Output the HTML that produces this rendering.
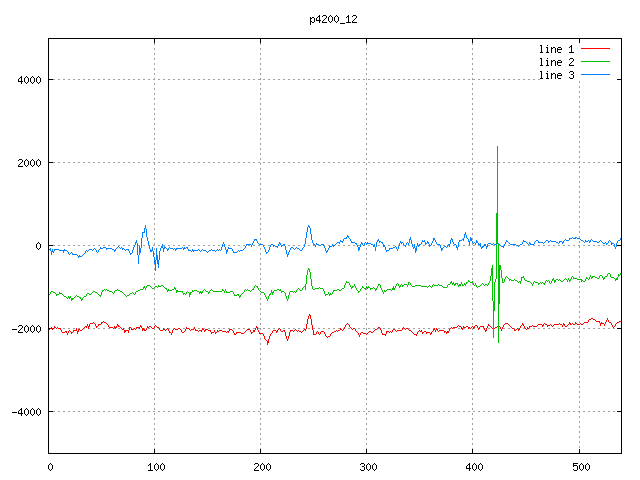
<!DOCTYPE html>
<html><head><meta charset="utf-8"><title>p4200_12</title>
<style>html,body{margin:0;padding:0;background:#fff;width:640px;height:480px;overflow:hidden;font-family:"Liberation Sans",sans-serif}</style>
</head><body>
<svg width="640" height="480" viewBox="0 0 640 480" style="display:block">
<rect width="640" height="480" fill="#fff"/>
<path fill="#a0a0a0" shape-rendering="crispEdges" d="M48 79h2v1h-2zM53 79h2v1h-2zM58 79h2v1h-2zM63 79h2v1h-2zM68 79h2v1h-2zM73 79h2v1h-2zM78 79h2v1h-2zM83 79h2v1h-2zM88 79h2v1h-2zM93 79h2v1h-2zM98 79h2v1h-2zM103 79h2v1h-2zM108 79h2v1h-2zM113 79h2v1h-2zM118 79h2v1h-2zM123 79h2v1h-2zM128 79h2v1h-2zM133 79h2v1h-2zM138 79h2v1h-2zM143 79h2v1h-2zM148 79h2v1h-2zM153 79h2v1h-2zM158 79h2v1h-2zM163 79h2v1h-2zM168 79h2v1h-2zM173 79h2v1h-2zM178 79h2v1h-2zM183 79h2v1h-2zM188 79h2v1h-2zM193 79h2v1h-2zM198 79h2v1h-2zM203 79h2v1h-2zM208 79h2v1h-2zM213 79h2v1h-2zM218 79h2v1h-2zM223 79h2v1h-2zM228 79h2v1h-2zM233 79h2v1h-2zM238 79h2v1h-2zM243 79h2v1h-2zM248 79h2v1h-2zM253 79h2v1h-2zM258 79h2v1h-2zM263 79h2v1h-2zM268 79h2v1h-2zM273 79h2v1h-2zM278 79h2v1h-2zM283 79h2v1h-2zM288 79h2v1h-2zM293 79h2v1h-2zM298 79h2v1h-2zM303 79h2v1h-2zM308 79h2v1h-2zM313 79h2v1h-2zM318 79h2v1h-2zM323 79h2v1h-2zM328 79h2v1h-2zM333 79h2v1h-2zM338 79h2v1h-2zM343 79h2v1h-2zM348 79h2v1h-2zM353 79h2v1h-2zM358 79h2v1h-2zM363 79h2v1h-2zM368 79h2v1h-2zM373 79h2v1h-2zM378 79h2v1h-2zM383 79h2v1h-2zM388 79h2v1h-2zM393 79h2v1h-2zM398 79h2v1h-2zM403 79h2v1h-2zM408 79h2v1h-2zM413 79h2v1h-2zM418 79h2v1h-2zM423 79h2v1h-2zM428 79h2v1h-2zM433 79h2v1h-2zM438 79h2v1h-2zM443 79h2v1h-2zM448 79h2v1h-2zM453 79h2v1h-2zM458 79h2v1h-2zM463 79h2v1h-2zM468 79h2v1h-2zM473 79h2v1h-2zM478 79h2v1h-2zM483 79h2v1h-2zM488 79h2v1h-2zM493 79h2v1h-2zM498 79h2v1h-2zM503 79h2v1h-2zM508 79h2v1h-2zM513 79h2v1h-2zM518 79h2v1h-2zM523 79h2v1h-2zM528 79h2v1h-2zM533 79h2v1h-2zM538 79h2v1h-2zM48 162h2v1h-2zM53 162h2v1h-2zM58 162h2v1h-2zM63 162h2v1h-2zM68 162h2v1h-2zM73 162h2v1h-2zM78 162h2v1h-2zM83 162h2v1h-2zM88 162h2v1h-2zM93 162h2v1h-2zM98 162h2v1h-2zM103 162h2v1h-2zM108 162h2v1h-2zM113 162h2v1h-2zM118 162h2v1h-2zM123 162h2v1h-2zM128 162h2v1h-2zM133 162h2v1h-2zM138 162h2v1h-2zM143 162h2v1h-2zM148 162h2v1h-2zM153 162h2v1h-2zM158 162h2v1h-2zM163 162h2v1h-2zM168 162h2v1h-2zM173 162h2v1h-2zM178 162h2v1h-2zM183 162h2v1h-2zM188 162h2v1h-2zM193 162h2v1h-2zM198 162h2v1h-2zM203 162h2v1h-2zM208 162h2v1h-2zM213 162h2v1h-2zM218 162h2v1h-2zM223 162h2v1h-2zM228 162h2v1h-2zM233 162h2v1h-2zM238 162h2v1h-2zM243 162h2v1h-2zM248 162h2v1h-2zM253 162h2v1h-2zM258 162h2v1h-2zM263 162h2v1h-2zM268 162h2v1h-2zM273 162h2v1h-2zM278 162h2v1h-2zM283 162h2v1h-2zM288 162h2v1h-2zM293 162h2v1h-2zM298 162h2v1h-2zM303 162h2v1h-2zM308 162h2v1h-2zM313 162h2v1h-2zM318 162h2v1h-2zM323 162h2v1h-2zM328 162h2v1h-2zM333 162h2v1h-2zM338 162h2v1h-2zM343 162h2v1h-2zM348 162h2v1h-2zM353 162h2v1h-2zM358 162h2v1h-2zM363 162h2v1h-2zM368 162h2v1h-2zM373 162h2v1h-2zM378 162h2v1h-2zM383 162h2v1h-2zM388 162h2v1h-2zM393 162h2v1h-2zM398 162h2v1h-2zM403 162h2v1h-2zM408 162h2v1h-2zM413 162h2v1h-2zM418 162h2v1h-2zM423 162h2v1h-2zM428 162h2v1h-2zM433 162h2v1h-2zM438 162h2v1h-2zM443 162h2v1h-2zM448 162h2v1h-2zM453 162h2v1h-2zM458 162h2v1h-2zM463 162h2v1h-2zM468 162h2v1h-2zM473 162h2v1h-2zM478 162h2v1h-2zM483 162h2v1h-2zM488 162h2v1h-2zM493 162h2v1h-2zM498 162h2v1h-2zM503 162h2v1h-2zM508 162h2v1h-2zM513 162h2v1h-2zM518 162h2v1h-2zM523 162h2v1h-2zM528 162h2v1h-2zM533 162h2v1h-2zM538 162h2v1h-2zM543 162h2v1h-2zM548 162h2v1h-2zM553 162h2v1h-2zM558 162h2v1h-2zM563 162h2v1h-2zM568 162h2v1h-2zM573 162h2v1h-2zM578 162h2v1h-2zM583 162h2v1h-2zM588 162h2v1h-2zM593 162h2v1h-2zM598 162h2v1h-2zM603 162h2v1h-2zM608 162h2v1h-2zM613 162h2v1h-2zM618 162h2v1h-2zM48 245h2v1h-2zM53 245h2v1h-2zM58 245h2v1h-2zM63 245h2v1h-2zM68 245h2v1h-2zM73 245h2v1h-2zM78 245h2v1h-2zM83 245h2v1h-2zM88 245h2v1h-2zM93 245h2v1h-2zM98 245h2v1h-2zM103 245h2v1h-2zM108 245h2v1h-2zM113 245h2v1h-2zM118 245h2v1h-2zM123 245h2v1h-2zM128 245h2v1h-2zM133 245h2v1h-2zM138 245h2v1h-2zM143 245h2v1h-2zM148 245h2v1h-2zM153 245h2v1h-2zM158 245h2v1h-2zM163 245h2v1h-2zM168 245h2v1h-2zM173 245h2v1h-2zM178 245h2v1h-2zM183 245h2v1h-2zM188 245h2v1h-2zM193 245h2v1h-2zM198 245h2v1h-2zM203 245h2v1h-2zM208 245h2v1h-2zM213 245h2v1h-2zM218 245h2v1h-2zM223 245h2v1h-2zM228 245h2v1h-2zM233 245h2v1h-2zM238 245h2v1h-2zM243 245h2v1h-2zM248 245h2v1h-2zM253 245h2v1h-2zM258 245h2v1h-2zM263 245h2v1h-2zM268 245h2v1h-2zM273 245h2v1h-2zM278 245h2v1h-2zM283 245h2v1h-2zM288 245h2v1h-2zM293 245h2v1h-2zM298 245h2v1h-2zM303 245h2v1h-2zM308 245h2v1h-2zM313 245h2v1h-2zM318 245h2v1h-2zM323 245h2v1h-2zM328 245h2v1h-2zM333 245h2v1h-2zM338 245h2v1h-2zM343 245h2v1h-2zM348 245h2v1h-2zM353 245h2v1h-2zM358 245h2v1h-2zM363 245h2v1h-2zM368 245h2v1h-2zM373 245h2v1h-2zM378 245h2v1h-2zM383 245h2v1h-2zM388 245h2v1h-2zM393 245h2v1h-2zM398 245h2v1h-2zM403 245h2v1h-2zM408 245h2v1h-2zM413 245h2v1h-2zM418 245h2v1h-2zM423 245h2v1h-2zM428 245h2v1h-2zM433 245h2v1h-2zM438 245h2v1h-2zM443 245h2v1h-2zM448 245h2v1h-2zM453 245h2v1h-2zM458 245h2v1h-2zM463 245h2v1h-2zM468 245h2v1h-2zM473 245h2v1h-2zM478 245h2v1h-2zM483 245h2v1h-2zM488 245h2v1h-2zM493 245h2v1h-2zM498 245h2v1h-2zM503 245h2v1h-2zM508 245h2v1h-2zM513 245h2v1h-2zM518 245h2v1h-2zM523 245h2v1h-2zM528 245h2v1h-2zM533 245h2v1h-2zM538 245h2v1h-2zM543 245h2v1h-2zM548 245h2v1h-2zM553 245h2v1h-2zM558 245h2v1h-2zM563 245h2v1h-2zM568 245h2v1h-2zM573 245h2v1h-2zM578 245h2v1h-2zM583 245h2v1h-2zM588 245h2v1h-2zM593 245h2v1h-2zM598 245h2v1h-2zM603 245h2v1h-2zM608 245h2v1h-2zM613 245h2v1h-2zM618 245h2v1h-2zM48 328h2v1h-2zM53 328h2v1h-2zM58 328h2v1h-2zM63 328h2v1h-2zM68 328h2v1h-2zM73 328h2v1h-2zM78 328h2v1h-2zM83 328h2v1h-2zM88 328h2v1h-2zM93 328h2v1h-2zM98 328h2v1h-2zM103 328h2v1h-2zM108 328h2v1h-2zM113 328h2v1h-2zM118 328h2v1h-2zM123 328h2v1h-2zM128 328h2v1h-2zM133 328h2v1h-2zM138 328h2v1h-2zM143 328h2v1h-2zM148 328h2v1h-2zM153 328h2v1h-2zM158 328h2v1h-2zM163 328h2v1h-2zM168 328h2v1h-2zM173 328h2v1h-2zM178 328h2v1h-2zM183 328h2v1h-2zM188 328h2v1h-2zM193 328h2v1h-2zM198 328h2v1h-2zM203 328h2v1h-2zM208 328h2v1h-2zM213 328h2v1h-2zM218 328h2v1h-2zM223 328h2v1h-2zM228 328h2v1h-2zM233 328h2v1h-2zM238 328h2v1h-2zM243 328h2v1h-2zM248 328h2v1h-2zM253 328h2v1h-2zM258 328h2v1h-2zM263 328h2v1h-2zM268 328h2v1h-2zM273 328h2v1h-2zM278 328h2v1h-2zM283 328h2v1h-2zM288 328h2v1h-2zM293 328h2v1h-2zM298 328h2v1h-2zM303 328h2v1h-2zM308 328h2v1h-2zM313 328h2v1h-2zM318 328h2v1h-2zM323 328h2v1h-2zM328 328h2v1h-2zM333 328h2v1h-2zM338 328h2v1h-2zM343 328h2v1h-2zM348 328h2v1h-2zM353 328h2v1h-2zM358 328h2v1h-2zM363 328h2v1h-2zM368 328h2v1h-2zM373 328h2v1h-2zM378 328h2v1h-2zM383 328h2v1h-2zM388 328h2v1h-2zM393 328h2v1h-2zM398 328h2v1h-2zM403 328h2v1h-2zM408 328h2v1h-2zM413 328h2v1h-2zM418 328h2v1h-2zM423 328h2v1h-2zM428 328h2v1h-2zM433 328h2v1h-2zM438 328h2v1h-2zM443 328h2v1h-2zM448 328h2v1h-2zM453 328h2v1h-2zM458 328h2v1h-2zM463 328h2v1h-2zM468 328h2v1h-2zM473 328h2v1h-2zM478 328h2v1h-2zM483 328h2v1h-2zM488 328h2v1h-2zM493 328h2v1h-2zM498 328h2v1h-2zM503 328h2v1h-2zM508 328h2v1h-2zM513 328h2v1h-2zM518 328h2v1h-2zM523 328h2v1h-2zM528 328h2v1h-2zM533 328h2v1h-2zM538 328h2v1h-2zM543 328h2v1h-2zM548 328h2v1h-2zM553 328h2v1h-2zM558 328h2v1h-2zM563 328h2v1h-2zM568 328h2v1h-2zM573 328h2v1h-2zM578 328h2v1h-2zM583 328h2v1h-2zM588 328h2v1h-2zM593 328h2v1h-2zM598 328h2v1h-2zM603 328h2v1h-2zM608 328h2v1h-2zM613 328h2v1h-2zM618 328h2v1h-2zM48 411h2v1h-2zM53 411h2v1h-2zM58 411h2v1h-2zM63 411h2v1h-2zM68 411h2v1h-2zM73 411h2v1h-2zM78 411h2v1h-2zM83 411h2v1h-2zM88 411h2v1h-2zM93 411h2v1h-2zM98 411h2v1h-2zM103 411h2v1h-2zM108 411h2v1h-2zM113 411h2v1h-2zM118 411h2v1h-2zM123 411h2v1h-2zM128 411h2v1h-2zM133 411h2v1h-2zM138 411h2v1h-2zM143 411h2v1h-2zM148 411h2v1h-2zM153 411h2v1h-2zM158 411h2v1h-2zM163 411h2v1h-2zM168 411h2v1h-2zM173 411h2v1h-2zM178 411h2v1h-2zM183 411h2v1h-2zM188 411h2v1h-2zM193 411h2v1h-2zM198 411h2v1h-2zM203 411h2v1h-2zM208 411h2v1h-2zM213 411h2v1h-2zM218 411h2v1h-2zM223 411h2v1h-2zM228 411h2v1h-2zM233 411h2v1h-2zM238 411h2v1h-2zM243 411h2v1h-2zM248 411h2v1h-2zM253 411h2v1h-2zM258 411h2v1h-2zM263 411h2v1h-2zM268 411h2v1h-2zM273 411h2v1h-2zM278 411h2v1h-2zM283 411h2v1h-2zM288 411h2v1h-2zM293 411h2v1h-2zM298 411h2v1h-2zM303 411h2v1h-2zM308 411h2v1h-2zM313 411h2v1h-2zM318 411h2v1h-2zM323 411h2v1h-2zM328 411h2v1h-2zM333 411h2v1h-2zM338 411h2v1h-2zM343 411h2v1h-2zM348 411h2v1h-2zM353 411h2v1h-2zM358 411h2v1h-2zM363 411h2v1h-2zM368 411h2v1h-2zM373 411h2v1h-2zM378 411h2v1h-2zM383 411h2v1h-2zM388 411h2v1h-2zM393 411h2v1h-2zM398 411h2v1h-2zM403 411h2v1h-2zM408 411h2v1h-2zM413 411h2v1h-2zM418 411h2v1h-2zM423 411h2v1h-2zM428 411h2v1h-2zM433 411h2v1h-2zM438 411h2v1h-2zM443 411h2v1h-2zM448 411h2v1h-2zM453 411h2v1h-2zM458 411h2v1h-2zM463 411h2v1h-2zM468 411h2v1h-2zM473 411h2v1h-2zM478 411h2v1h-2zM483 411h2v1h-2zM488 411h2v1h-2zM493 411h2v1h-2zM498 411h2v1h-2zM503 411h2v1h-2zM508 411h2v1h-2zM513 411h2v1h-2zM518 411h2v1h-2zM523 411h2v1h-2zM528 411h2v1h-2zM533 411h2v1h-2zM538 411h2v1h-2zM543 411h2v1h-2zM548 411h2v1h-2zM553 411h2v1h-2zM558 411h2v1h-2zM563 411h2v1h-2zM568 411h2v1h-2zM573 411h2v1h-2zM578 411h2v1h-2zM583 411h2v1h-2zM588 411h2v1h-2zM593 411h2v1h-2zM598 411h2v1h-2zM603 411h2v1h-2zM608 411h2v1h-2zM613 411h2v1h-2zM618 411h2v1h-2zM154 38h1v2h-1zM154 43h1v2h-1zM154 48h1v2h-1zM154 53h1v2h-1zM154 58h1v2h-1zM154 63h1v2h-1zM154 68h1v2h-1zM154 73h1v2h-1zM154 78h1v2h-1zM154 83h1v2h-1zM154 88h1v2h-1zM154 93h1v2h-1zM154 98h1v2h-1zM154 103h1v2h-1zM154 108h1v2h-1zM154 113h1v2h-1zM154 118h1v2h-1zM154 123h1v2h-1zM154 128h1v2h-1zM154 133h1v2h-1zM154 138h1v2h-1zM154 143h1v2h-1zM154 148h1v2h-1zM154 153h1v2h-1zM154 158h1v2h-1zM154 163h1v2h-1zM154 168h1v2h-1zM154 173h1v2h-1zM154 178h1v2h-1zM154 183h1v2h-1zM154 188h1v2h-1zM154 193h1v2h-1zM154 198h1v2h-1zM154 203h1v2h-1zM154 208h1v2h-1zM154 213h1v2h-1zM154 218h1v2h-1zM154 223h1v2h-1zM154 228h1v2h-1zM154 233h1v2h-1zM154 238h1v2h-1zM154 243h1v2h-1zM154 248h1v2h-1zM154 253h1v2h-1zM154 258h1v2h-1zM154 263h1v2h-1zM154 268h1v2h-1zM154 273h1v2h-1zM154 278h1v2h-1zM154 283h1v2h-1zM154 288h1v2h-1zM154 293h1v2h-1zM154 298h1v2h-1zM154 303h1v2h-1zM154 308h1v2h-1zM154 313h1v2h-1zM154 318h1v2h-1zM154 323h1v2h-1zM154 328h1v2h-1zM154 333h1v2h-1zM154 338h1v2h-1zM154 343h1v2h-1zM154 348h1v2h-1zM154 353h1v2h-1zM154 358h1v2h-1zM154 363h1v2h-1zM154 368h1v2h-1zM154 373h1v2h-1zM154 378h1v2h-1zM154 383h1v2h-1zM154 388h1v2h-1zM154 393h1v2h-1zM154 398h1v2h-1zM154 403h1v2h-1zM154 408h1v2h-1zM154 413h1v2h-1zM154 418h1v2h-1zM154 423h1v2h-1zM154 428h1v2h-1zM154 433h1v2h-1zM154 438h1v2h-1zM154 443h1v2h-1zM154 448h1v2h-1zM154 453h1v1h-1zM260 38h1v2h-1zM260 43h1v2h-1zM260 48h1v2h-1zM260 53h1v2h-1zM260 58h1v2h-1zM260 63h1v2h-1zM260 68h1v2h-1zM260 73h1v2h-1zM260 78h1v2h-1zM260 83h1v2h-1zM260 88h1v2h-1zM260 93h1v2h-1zM260 98h1v2h-1zM260 103h1v2h-1zM260 108h1v2h-1zM260 113h1v2h-1zM260 118h1v2h-1zM260 123h1v2h-1zM260 128h1v2h-1zM260 133h1v2h-1zM260 138h1v2h-1zM260 143h1v2h-1zM260 148h1v2h-1zM260 153h1v2h-1zM260 158h1v2h-1zM260 163h1v2h-1zM260 168h1v2h-1zM260 173h1v2h-1zM260 178h1v2h-1zM260 183h1v2h-1zM260 188h1v2h-1zM260 193h1v2h-1zM260 198h1v2h-1zM260 203h1v2h-1zM260 208h1v2h-1zM260 213h1v2h-1zM260 218h1v2h-1zM260 223h1v2h-1zM260 228h1v2h-1zM260 233h1v2h-1zM260 238h1v2h-1zM260 243h1v2h-1zM260 248h1v2h-1zM260 253h1v2h-1zM260 258h1v2h-1zM260 263h1v2h-1zM260 268h1v2h-1zM260 273h1v2h-1zM260 278h1v2h-1zM260 283h1v2h-1zM260 288h1v2h-1zM260 293h1v2h-1zM260 298h1v2h-1zM260 303h1v2h-1zM260 308h1v2h-1zM260 313h1v2h-1zM260 318h1v2h-1zM260 323h1v2h-1zM260 328h1v2h-1zM260 333h1v2h-1zM260 338h1v2h-1zM260 343h1v2h-1zM260 348h1v2h-1zM260 353h1v2h-1zM260 358h1v2h-1zM260 363h1v2h-1zM260 368h1v2h-1zM260 373h1v2h-1zM260 378h1v2h-1zM260 383h1v2h-1zM260 388h1v2h-1zM260 393h1v2h-1zM260 398h1v2h-1zM260 403h1v2h-1zM260 408h1v2h-1zM260 413h1v2h-1zM260 418h1v2h-1zM260 423h1v2h-1zM260 428h1v2h-1zM260 433h1v2h-1zM260 438h1v2h-1zM260 443h1v2h-1zM260 448h1v2h-1zM260 453h1v1h-1zM366 38h1v2h-1zM366 43h1v2h-1zM366 48h1v2h-1zM366 53h1v2h-1zM366 58h1v2h-1zM366 63h1v2h-1zM366 68h1v2h-1zM366 73h1v2h-1zM366 78h1v2h-1zM366 83h1v2h-1zM366 88h1v2h-1zM366 93h1v2h-1zM366 98h1v2h-1zM366 103h1v2h-1zM366 108h1v2h-1zM366 113h1v2h-1zM366 118h1v2h-1zM366 123h1v2h-1zM366 128h1v2h-1zM366 133h1v2h-1zM366 138h1v2h-1zM366 143h1v2h-1zM366 148h1v2h-1zM366 153h1v2h-1zM366 158h1v2h-1zM366 163h1v2h-1zM366 168h1v2h-1zM366 173h1v2h-1zM366 178h1v2h-1zM366 183h1v2h-1zM366 188h1v2h-1zM366 193h1v2h-1zM366 198h1v2h-1zM366 203h1v2h-1zM366 208h1v2h-1zM366 213h1v2h-1zM366 218h1v2h-1zM366 223h1v2h-1zM366 228h1v2h-1zM366 233h1v2h-1zM366 238h1v2h-1zM366 243h1v2h-1zM366 248h1v2h-1zM366 253h1v2h-1zM366 258h1v2h-1zM366 263h1v2h-1zM366 268h1v2h-1zM366 273h1v2h-1zM366 278h1v2h-1zM366 283h1v2h-1zM366 288h1v2h-1zM366 293h1v2h-1zM366 298h1v2h-1zM366 303h1v2h-1zM366 308h1v2h-1zM366 313h1v2h-1zM366 318h1v2h-1zM366 323h1v2h-1zM366 328h1v2h-1zM366 333h1v2h-1zM366 338h1v2h-1zM366 343h1v2h-1zM366 348h1v2h-1zM366 353h1v2h-1zM366 358h1v2h-1zM366 363h1v2h-1zM366 368h1v2h-1zM366 373h1v2h-1zM366 378h1v2h-1zM366 383h1v2h-1zM366 388h1v2h-1zM366 393h1v2h-1zM366 398h1v2h-1zM366 403h1v2h-1zM366 408h1v2h-1zM366 413h1v2h-1zM366 418h1v2h-1zM366 423h1v2h-1zM366 428h1v2h-1zM366 433h1v2h-1zM366 438h1v2h-1zM366 443h1v2h-1zM366 448h1v2h-1zM366 453h1v1h-1zM472 38h1v2h-1zM472 43h1v2h-1zM472 48h1v2h-1zM472 53h1v2h-1zM472 58h1v2h-1zM472 63h1v2h-1zM472 68h1v2h-1zM472 73h1v2h-1zM472 78h1v2h-1zM472 83h1v2h-1zM472 88h1v2h-1zM472 93h1v2h-1zM472 98h1v2h-1zM472 103h1v2h-1zM472 108h1v2h-1zM472 113h1v2h-1zM472 118h1v2h-1zM472 123h1v2h-1zM472 128h1v2h-1zM472 133h1v2h-1zM472 138h1v2h-1zM472 143h1v2h-1zM472 148h1v2h-1zM472 153h1v2h-1zM472 158h1v2h-1zM472 163h1v2h-1zM472 168h1v2h-1zM472 173h1v2h-1zM472 178h1v2h-1zM472 183h1v2h-1zM472 188h1v2h-1zM472 193h1v2h-1zM472 198h1v2h-1zM472 203h1v2h-1zM472 208h1v2h-1zM472 213h1v2h-1zM472 218h1v2h-1zM472 223h1v2h-1zM472 228h1v2h-1zM472 233h1v2h-1zM472 238h1v2h-1zM472 243h1v2h-1zM472 248h1v2h-1zM472 253h1v2h-1zM472 258h1v2h-1zM472 263h1v2h-1zM472 268h1v2h-1zM472 273h1v2h-1zM472 278h1v2h-1zM472 283h1v2h-1zM472 288h1v2h-1zM472 293h1v2h-1zM472 298h1v2h-1zM472 303h1v2h-1zM472 308h1v2h-1zM472 313h1v2h-1zM472 318h1v2h-1zM472 323h1v2h-1zM472 328h1v2h-1zM472 333h1v2h-1zM472 338h1v2h-1zM472 343h1v2h-1zM472 348h1v2h-1zM472 353h1v2h-1zM472 358h1v2h-1zM472 363h1v2h-1zM472 368h1v2h-1zM472 373h1v2h-1zM472 378h1v2h-1zM472 383h1v2h-1zM472 388h1v2h-1zM472 393h1v2h-1zM472 398h1v2h-1zM472 403h1v2h-1zM472 408h1v2h-1zM472 413h1v2h-1zM472 418h1v2h-1zM472 423h1v2h-1zM472 428h1v2h-1zM472 433h1v2h-1zM472 438h1v2h-1zM472 443h1v2h-1zM472 448h1v2h-1zM472 453h1v1h-1zM579 81h1v2h-1zM579 86h1v2h-1zM579 91h1v2h-1zM579 96h1v2h-1zM579 101h1v2h-1zM579 106h1v2h-1zM579 111h1v2h-1zM579 116h1v2h-1zM579 121h1v2h-1zM579 126h1v2h-1zM579 131h1v2h-1zM579 136h1v2h-1zM579 141h1v2h-1zM579 146h1v2h-1zM579 151h1v2h-1zM579 156h1v2h-1zM579 161h1v2h-1zM579 166h1v2h-1zM579 171h1v2h-1zM579 176h1v2h-1zM579 181h1v2h-1zM579 186h1v2h-1zM579 191h1v2h-1zM579 196h1v2h-1zM579 201h1v2h-1zM579 206h1v2h-1zM579 211h1v2h-1zM579 216h1v2h-1zM579 221h1v2h-1zM579 226h1v2h-1zM579 231h1v2h-1zM579 236h1v2h-1zM579 241h1v2h-1zM579 246h1v2h-1zM579 251h1v2h-1zM579 256h1v2h-1zM579 261h1v2h-1zM579 266h1v2h-1zM579 271h1v2h-1zM579 276h1v2h-1zM579 281h1v2h-1zM579 286h1v2h-1zM579 291h1v2h-1zM579 296h1v2h-1zM579 301h1v2h-1zM579 306h1v2h-1zM579 311h1v2h-1zM579 316h1v2h-1zM579 321h1v2h-1zM579 326h1v2h-1zM579 331h1v2h-1zM579 336h1v2h-1zM579 341h1v2h-1zM579 346h1v2h-1zM579 351h1v2h-1zM579 356h1v2h-1zM579 361h1v2h-1zM579 366h1v2h-1zM579 371h1v2h-1zM579 376h1v2h-1zM579 381h1v2h-1zM579 386h1v2h-1zM579 391h1v2h-1zM579 396h1v2h-1zM579 401h1v2h-1zM579 406h1v2h-1zM579 411h1v2h-1zM579 416h1v2h-1zM579 421h1v2h-1zM579 426h1v2h-1zM579 431h1v2h-1zM579 436h1v2h-1zM579 441h1v2h-1zM579 446h1v2h-1zM579 451h1v2h-1z"/>
<path fill="#000" shape-rendering="crispEdges" d="M49 79h4v1h-4zM617 79h4v1h-4zM49 162h4v1h-4zM617 162h4v1h-4zM49 245h4v1h-4zM617 245h4v1h-4zM49 328h4v1h-4zM617 328h4v1h-4zM49 411h4v1h-4zM617 411h4v1h-4zM48 449h1v4h-1zM48 39h1v4h-1zM154 449h1v4h-1zM154 39h1v4h-1zM260 449h1v4h-1zM260 39h1v4h-1zM366 449h1v4h-1zM366 39h1v4h-1zM472 449h1v4h-1zM472 39h1v4h-1zM579 449h1v4h-1zM579 39h1v4h-1zM50 463h1v1h-1zM49 464h1v1h-1zM51 464h1v1h-1zM48 465h1v1h-1zM52 465h1v1h-1zM48 466h1v1h-1zM52 466h1v1h-1zM48 467h1v1h-1zM52 467h1v1h-1zM48 468h1v1h-1zM52 468h1v1h-1zM49 469h1v1h-1zM51 469h1v1h-1zM50 470h1v1h-1zM150 463h1v1h-1zM149 464h2v1h-2zM148 465h1v1h-1zM150 465h1v1h-1zM150 466h1v1h-1zM150 467h1v1h-1zM150 468h1v1h-1zM150 469h1v1h-1zM148 470h5v1h-5zM156 463h1v1h-1zM155 464h1v1h-1zM157 464h1v1h-1zM154 465h1v1h-1zM158 465h1v1h-1zM154 466h1v1h-1zM158 466h1v1h-1zM154 467h1v1h-1zM158 467h1v1h-1zM154 468h1v1h-1zM158 468h1v1h-1zM155 469h1v1h-1zM157 469h1v1h-1zM156 470h1v1h-1zM162 463h1v1h-1zM161 464h1v1h-1zM163 464h1v1h-1zM160 465h1v1h-1zM164 465h1v1h-1zM160 466h1v1h-1zM164 466h1v1h-1zM160 467h1v1h-1zM164 467h1v1h-1zM160 468h1v1h-1zM164 468h1v1h-1zM161 469h1v1h-1zM163 469h1v1h-1zM162 470h1v1h-1zM255 463h3v1h-3zM254 464h1v1h-1zM258 464h1v1h-1zM258 465h1v1h-1zM257 466h1v1h-1zM256 467h1v1h-1zM255 468h1v1h-1zM254 469h1v1h-1zM254 470h5v1h-5zM262 463h1v1h-1zM261 464h1v1h-1zM263 464h1v1h-1zM260 465h1v1h-1zM264 465h1v1h-1zM260 466h1v1h-1zM264 466h1v1h-1zM260 467h1v1h-1zM264 467h1v1h-1zM260 468h1v1h-1zM264 468h1v1h-1zM261 469h1v1h-1zM263 469h1v1h-1zM262 470h1v1h-1zM268 463h1v1h-1zM267 464h1v1h-1zM269 464h1v1h-1zM266 465h1v1h-1zM270 465h1v1h-1zM266 466h1v1h-1zM270 466h1v1h-1zM266 467h1v1h-1zM270 467h1v1h-1zM266 468h1v1h-1zM270 468h1v1h-1zM267 469h1v1h-1zM269 469h1v1h-1zM268 470h1v1h-1zM361 463h3v1h-3zM360 464h1v1h-1zM364 464h1v1h-1zM364 465h1v1h-1zM362 466h2v1h-2zM364 467h1v1h-1zM364 468h1v1h-1zM360 469h1v1h-1zM364 469h1v1h-1zM361 470h3v1h-3zM368 463h1v1h-1zM367 464h1v1h-1zM369 464h1v1h-1zM366 465h1v1h-1zM370 465h1v1h-1zM366 466h1v1h-1zM370 466h1v1h-1zM366 467h1v1h-1zM370 467h1v1h-1zM366 468h1v1h-1zM370 468h1v1h-1zM367 469h1v1h-1zM369 469h1v1h-1zM368 470h1v1h-1zM374 463h1v1h-1zM373 464h1v1h-1zM375 464h1v1h-1zM372 465h1v1h-1zM376 465h1v1h-1zM372 466h1v1h-1zM376 466h1v1h-1zM372 467h1v1h-1zM376 467h1v1h-1zM372 468h1v1h-1zM376 468h1v1h-1zM373 469h1v1h-1zM375 469h1v1h-1zM374 470h1v1h-1zM469 463h1v1h-1zM468 464h2v1h-2zM467 465h1v1h-1zM469 465h1v1h-1zM466 466h1v1h-1zM469 466h1v1h-1zM466 467h1v1h-1zM469 467h1v1h-1zM466 468h5v1h-5zM469 469h1v1h-1zM469 470h1v1h-1zM474 463h1v1h-1zM473 464h1v1h-1zM475 464h1v1h-1zM472 465h1v1h-1zM476 465h1v1h-1zM472 466h1v1h-1zM476 466h1v1h-1zM472 467h1v1h-1zM476 467h1v1h-1zM472 468h1v1h-1zM476 468h1v1h-1zM473 469h1v1h-1zM475 469h1v1h-1zM474 470h1v1h-1zM480 463h1v1h-1zM479 464h1v1h-1zM481 464h1v1h-1zM478 465h1v1h-1zM482 465h1v1h-1zM478 466h1v1h-1zM482 466h1v1h-1zM478 467h1v1h-1zM482 467h1v1h-1zM478 468h1v1h-1zM482 468h1v1h-1zM479 469h1v1h-1zM481 469h1v1h-1zM480 470h1v1h-1zM573 463h5v1h-5zM573 464h1v1h-1zM573 465h4v1h-4zM573 466h1v1h-1zM577 466h1v1h-1zM577 467h1v1h-1zM577 468h1v1h-1zM573 469h1v1h-1zM577 469h1v1h-1zM574 470h3v1h-3zM581 463h1v1h-1zM580 464h1v1h-1zM582 464h1v1h-1zM579 465h1v1h-1zM583 465h1v1h-1zM579 466h1v1h-1zM583 466h1v1h-1zM579 467h1v1h-1zM583 467h1v1h-1zM579 468h1v1h-1zM583 468h1v1h-1zM580 469h1v1h-1zM582 469h1v1h-1zM581 470h1v1h-1zM587 463h1v1h-1zM586 464h1v1h-1zM588 464h1v1h-1zM585 465h1v1h-1zM589 465h1v1h-1zM585 466h1v1h-1zM589 466h1v1h-1zM585 467h1v1h-1zM589 467h1v1h-1zM585 468h1v1h-1zM589 468h1v1h-1zM586 469h1v1h-1zM588 469h1v1h-1zM587 470h1v1h-1zM21 76h1v1h-1zM20 77h2v1h-2zM19 78h1v1h-1zM21 78h1v1h-1zM18 79h1v1h-1zM21 79h1v1h-1zM18 80h1v1h-1zM21 80h1v1h-1zM18 81h5v1h-5zM21 82h1v1h-1zM21 83h1v1h-1zM26 76h1v1h-1zM25 77h1v1h-1zM27 77h1v1h-1zM24 78h1v1h-1zM28 78h1v1h-1zM24 79h1v1h-1zM28 79h1v1h-1zM24 80h1v1h-1zM28 80h1v1h-1zM24 81h1v1h-1zM28 81h1v1h-1zM25 82h1v1h-1zM27 82h1v1h-1zM26 83h1v1h-1zM32 76h1v1h-1zM31 77h1v1h-1zM33 77h1v1h-1zM30 78h1v1h-1zM34 78h1v1h-1zM30 79h1v1h-1zM34 79h1v1h-1zM30 80h1v1h-1zM34 80h1v1h-1zM30 81h1v1h-1zM34 81h1v1h-1zM31 82h1v1h-1zM33 82h1v1h-1zM32 83h1v1h-1zM38 76h1v1h-1zM37 77h1v1h-1zM39 77h1v1h-1zM36 78h1v1h-1zM40 78h1v1h-1zM36 79h1v1h-1zM40 79h1v1h-1zM36 80h1v1h-1zM40 80h1v1h-1zM36 81h1v1h-1zM40 81h1v1h-1zM37 82h1v1h-1zM39 82h1v1h-1zM38 83h1v1h-1zM19 159h3v1h-3zM18 160h1v1h-1zM22 160h1v1h-1zM22 161h1v1h-1zM21 162h1v1h-1zM20 163h1v1h-1zM19 164h1v1h-1zM18 165h1v1h-1zM18 166h5v1h-5zM26 159h1v1h-1zM25 160h1v1h-1zM27 160h1v1h-1zM24 161h1v1h-1zM28 161h1v1h-1zM24 162h1v1h-1zM28 162h1v1h-1zM24 163h1v1h-1zM28 163h1v1h-1zM24 164h1v1h-1zM28 164h1v1h-1zM25 165h1v1h-1zM27 165h1v1h-1zM26 166h1v1h-1zM32 159h1v1h-1zM31 160h1v1h-1zM33 160h1v1h-1zM30 161h1v1h-1zM34 161h1v1h-1zM30 162h1v1h-1zM34 162h1v1h-1zM30 163h1v1h-1zM34 163h1v1h-1zM30 164h1v1h-1zM34 164h1v1h-1zM31 165h1v1h-1zM33 165h1v1h-1zM32 166h1v1h-1zM38 159h1v1h-1zM37 160h1v1h-1zM39 160h1v1h-1zM36 161h1v1h-1zM40 161h1v1h-1zM36 162h1v1h-1zM40 162h1v1h-1zM36 163h1v1h-1zM40 163h1v1h-1zM36 164h1v1h-1zM40 164h1v1h-1zM37 165h1v1h-1zM39 165h1v1h-1zM38 166h1v1h-1zM38 242h1v1h-1zM37 243h1v1h-1zM39 243h1v1h-1zM36 244h1v1h-1zM40 244h1v1h-1zM36 245h1v1h-1zM40 245h1v1h-1zM36 246h1v1h-1zM40 246h1v1h-1zM36 247h1v1h-1zM40 247h1v1h-1zM37 248h1v1h-1zM39 248h1v1h-1zM38 249h1v1h-1zM12 329h5v1h-5zM19 325h3v1h-3zM18 326h1v1h-1zM22 326h1v1h-1zM22 327h1v1h-1zM21 328h1v1h-1zM20 329h1v1h-1zM19 330h1v1h-1zM18 331h1v1h-1zM18 332h5v1h-5zM26 325h1v1h-1zM25 326h1v1h-1zM27 326h1v1h-1zM24 327h1v1h-1zM28 327h1v1h-1zM24 328h1v1h-1zM28 328h1v1h-1zM24 329h1v1h-1zM28 329h1v1h-1zM24 330h1v1h-1zM28 330h1v1h-1zM25 331h1v1h-1zM27 331h1v1h-1zM26 332h1v1h-1zM32 325h1v1h-1zM31 326h1v1h-1zM33 326h1v1h-1zM30 327h1v1h-1zM34 327h1v1h-1zM30 328h1v1h-1zM34 328h1v1h-1zM30 329h1v1h-1zM34 329h1v1h-1zM30 330h1v1h-1zM34 330h1v1h-1zM31 331h1v1h-1zM33 331h1v1h-1zM32 332h1v1h-1zM38 325h1v1h-1zM37 326h1v1h-1zM39 326h1v1h-1zM36 327h1v1h-1zM40 327h1v1h-1zM36 328h1v1h-1zM40 328h1v1h-1zM36 329h1v1h-1zM40 329h1v1h-1zM36 330h1v1h-1zM40 330h1v1h-1zM37 331h1v1h-1zM39 331h1v1h-1zM38 332h1v1h-1zM12 412h5v1h-5zM21 408h1v1h-1zM20 409h2v1h-2zM19 410h1v1h-1zM21 410h1v1h-1zM18 411h1v1h-1zM21 411h1v1h-1zM18 412h1v1h-1zM21 412h1v1h-1zM18 413h5v1h-5zM21 414h1v1h-1zM21 415h1v1h-1zM26 408h1v1h-1zM25 409h1v1h-1zM27 409h1v1h-1zM24 410h1v1h-1zM28 410h1v1h-1zM24 411h1v1h-1zM28 411h1v1h-1zM24 412h1v1h-1zM28 412h1v1h-1zM24 413h1v1h-1zM28 413h1v1h-1zM25 414h1v1h-1zM27 414h1v1h-1zM26 415h1v1h-1zM32 408h1v1h-1zM31 409h1v1h-1zM33 409h1v1h-1zM30 410h1v1h-1zM34 410h1v1h-1zM30 411h1v1h-1zM34 411h1v1h-1zM30 412h1v1h-1zM34 412h1v1h-1zM30 413h1v1h-1zM34 413h1v1h-1zM31 414h1v1h-1zM33 414h1v1h-1zM32 415h1v1h-1zM38 408h1v1h-1zM37 409h1v1h-1zM39 409h1v1h-1zM36 410h1v1h-1zM40 410h1v1h-1zM36 411h1v1h-1zM40 411h1v1h-1zM36 412h1v1h-1zM40 412h1v1h-1zM36 413h1v1h-1zM40 413h1v1h-1zM37 414h1v1h-1zM39 414h1v1h-1zM38 415h1v1h-1zM310 17h1v1h-1zM312 17h2v1h-2zM310 18h2v1h-2zM314 18h1v1h-1zM310 19h1v1h-1zM314 19h1v1h-1zM310 20h1v1h-1zM314 20h1v1h-1zM310 21h2v1h-2zM314 21h1v1h-1zM310 22h1v1h-1zM312 22h2v1h-2zM310 23h1v1h-1zM310 24h1v1h-1zM319 15h1v1h-1zM318 16h2v1h-2zM317 17h1v1h-1zM319 17h1v1h-1zM316 18h1v1h-1zM319 18h1v1h-1zM316 19h1v1h-1zM319 19h1v1h-1zM316 20h5v1h-5zM319 21h1v1h-1zM319 22h1v1h-1zM323 15h3v1h-3zM322 16h1v1h-1zM326 16h1v1h-1zM326 17h1v1h-1zM325 18h1v1h-1zM324 19h1v1h-1zM323 20h1v1h-1zM322 21h1v1h-1zM322 22h5v1h-5zM330 15h1v1h-1zM329 16h1v1h-1zM331 16h1v1h-1zM328 17h1v1h-1zM332 17h1v1h-1zM328 18h1v1h-1zM332 18h1v1h-1zM328 19h1v1h-1zM332 19h1v1h-1zM328 20h1v1h-1zM332 20h1v1h-1zM329 21h1v1h-1zM331 21h1v1h-1zM330 22h1v1h-1zM336 15h1v1h-1zM335 16h1v1h-1zM337 16h1v1h-1zM334 17h1v1h-1zM338 17h1v1h-1zM334 18h1v1h-1zM338 18h1v1h-1zM334 19h1v1h-1zM338 19h1v1h-1zM334 20h1v1h-1zM338 20h1v1h-1zM335 21h1v1h-1zM337 21h1v1h-1zM336 22h1v1h-1zM340 23h5v1h-5zM348 15h1v1h-1zM347 16h2v1h-2zM346 17h1v1h-1zM348 17h1v1h-1zM348 18h1v1h-1zM348 19h1v1h-1zM348 20h1v1h-1zM348 21h1v1h-1zM346 22h5v1h-5zM353 15h3v1h-3zM352 16h1v1h-1zM356 16h1v1h-1zM356 17h1v1h-1zM355 18h1v1h-1zM354 19h1v1h-1zM353 20h1v1h-1zM352 21h1v1h-1zM352 22h5v1h-5zM540 45h2v1h-2zM541 46h1v1h-1zM541 47h1v1h-1zM541 48h1v1h-1zM541 49h1v1h-1zM541 50h1v1h-1zM541 51h1v1h-1zM540 52h3v1h-3zM547 45h1v1h-1zM546 47h2v1h-2zM547 48h1v1h-1zM547 49h1v1h-1zM547 50h1v1h-1zM547 51h1v1h-1zM546 52h3v1h-3zM551 47h1v1h-1zM553 47h2v1h-2zM551 48h2v1h-2zM555 48h1v1h-1zM551 49h1v1h-1zM555 49h1v1h-1zM551 50h1v1h-1zM555 50h1v1h-1zM551 51h1v1h-1zM555 51h1v1h-1zM551 52h1v1h-1zM555 52h1v1h-1zM558 47h3v1h-3zM557 48h1v1h-1zM561 48h1v1h-1zM557 49h5v1h-5zM557 50h1v1h-1zM557 51h1v1h-1zM558 52h3v1h-3zM571 45h1v1h-1zM570 46h2v1h-2zM569 47h1v1h-1zM571 47h1v1h-1zM571 48h1v1h-1zM571 49h1v1h-1zM571 50h1v1h-1zM571 51h1v1h-1zM569 52h5v1h-5zM540 58h2v1h-2zM541 59h1v1h-1zM541 60h1v1h-1zM541 61h1v1h-1zM541 62h1v1h-1zM541 63h1v1h-1zM541 64h1v1h-1zM540 65h3v1h-3zM547 58h1v1h-1zM546 60h2v1h-2zM547 61h1v1h-1zM547 62h1v1h-1zM547 63h1v1h-1zM547 64h1v1h-1zM546 65h3v1h-3zM551 60h1v1h-1zM553 60h2v1h-2zM551 61h2v1h-2zM555 61h1v1h-1zM551 62h1v1h-1zM555 62h1v1h-1zM551 63h1v1h-1zM555 63h1v1h-1zM551 64h1v1h-1zM555 64h1v1h-1zM551 65h1v1h-1zM555 65h1v1h-1zM558 60h3v1h-3zM557 61h1v1h-1zM561 61h1v1h-1zM557 62h5v1h-5zM557 63h1v1h-1zM557 64h1v1h-1zM558 65h3v1h-3zM570 58h3v1h-3zM569 59h1v1h-1zM573 59h1v1h-1zM573 60h1v1h-1zM572 61h1v1h-1zM571 62h1v1h-1zM570 63h1v1h-1zM569 64h1v1h-1zM569 65h5v1h-5zM540 71h2v1h-2zM541 72h1v1h-1zM541 73h1v1h-1zM541 74h1v1h-1zM541 75h1v1h-1zM541 76h1v1h-1zM541 77h1v1h-1zM540 78h3v1h-3zM547 71h1v1h-1zM546 73h2v1h-2zM547 74h1v1h-1zM547 75h1v1h-1zM547 76h1v1h-1zM547 77h1v1h-1zM546 78h3v1h-3zM551 73h1v1h-1zM553 73h2v1h-2zM551 74h2v1h-2zM555 74h1v1h-1zM551 75h1v1h-1zM555 75h1v1h-1zM551 76h1v1h-1zM555 76h1v1h-1zM551 77h1v1h-1zM555 77h1v1h-1zM551 78h1v1h-1zM555 78h1v1h-1zM558 73h3v1h-3zM557 74h1v1h-1zM561 74h1v1h-1zM557 75h5v1h-5zM557 76h1v1h-1zM557 77h1v1h-1zM558 78h3v1h-3zM570 71h3v1h-3zM569 72h1v1h-1zM573 72h1v1h-1zM573 73h1v1h-1zM571 74h2v1h-2zM573 75h1v1h-1zM573 76h1v1h-1zM569 77h1v1h-1zM573 77h1v1h-1zM570 78h3v1h-3z"/>
<path shape-rendering="crispEdges" fill="#ff0000" d="M49 329h1v1h-1zM50 328h1v1h-1zM51 327h1v1h-1zM52 328h1v2h-1zM53 328h1v1h-1zM54 326h1v2h-1zM55 327h1v1h-1zM56 328h1v1h-1zM57 327h1v1h-1zM58 328h1v1h-1zM59 328h1v1h-1zM60 328h1v2h-1zM61 330h1v2h-1zM62 332h1v1h-1zM63 332h1v1h-1zM64 332h1v1h-1zM65 331h1v1h-1zM66 331h1v2h-1zM67 333h1v2h-1zM68 331h1v2h-1zM69 330h1v1h-1zM70 331h1v1h-1zM71 332h1v2h-1zM72 332h1v1h-1zM73 330h1v2h-1zM74 330h1v1h-1zM75 330h1v1h-1zM76 328h1v3h-1zM77 331h1v3h-1zM78 329h1v3h-1zM79 329h1v1h-1zM80 330h1v1h-1zM81 330h1v1h-1zM82 329h1v1h-1zM83 328h1v1h-1zM84 327h1v1h-1zM85 326h1v1h-1zM86 326h1v2h-1zM87 324h1v2h-1zM88 326h1v3h-1zM89 324h1v3h-1zM90 323h1v1h-1zM91 323h1v1h-1zM92 323h1v1h-1zM93 322h1v1h-1zM94 323h1v1h-1zM95 324h1v2h-1zM96 326h1v2h-1zM97 326h1v1h-1zM98 324h1v2h-1zM99 324h1v1h-1zM100 324h1v1h-1zM101 322h1v2h-1zM102 322h1v1h-1zM103 321h1v1h-1zM104 322h1v1h-1zM105 322h1v1h-1zM106 323h1v1h-1zM107 324h1v1h-1zM108 325h1v2h-1zM109 327h1v1h-1zM110 327h1v1h-1zM111 327h1v1h-1zM112 327h1v1h-1zM113 328h1v1h-1zM114 326h1v2h-1zM115 327h1v2h-1zM116 326h1v2h-1zM117 324h1v2h-1zM118 325h1v2h-1zM119 326h1v1h-1zM120 327h1v1h-1zM121 328h1v1h-1zM122 329h1v1h-1zM123 328h1v2h-1zM124 330h1v3h-1zM125 330h1v2h-1zM126 330h1v1h-1zM127 330h1v1h-1zM128 330h1v3h-1zM129 327h1v3h-1zM130 327h1v1h-1zM131 328h1v2h-1zM132 329h1v1h-1zM133 329h1v1h-1zM134 328h1v1h-1zM135 329h1v1h-1zM136 327h1v2h-1zM137 327h1v1h-1zM138 327h1v1h-1zM139 327h1v2h-1zM140 325h1v2h-1zM141 326h1v2h-1zM142 328h1v3h-1zM143 328h1v2h-1zM144 329h1v2h-1zM145 330h1v1h-1zM146 328h1v2h-1zM147 326h1v2h-1zM148 327h1v1h-1zM149 326h1v1h-1zM150 326h1v1h-1zM151 327h1v1h-1zM152 328h1v1h-1zM153 328h1v1h-1zM154 326h1v2h-1zM155 325h1v1h-1zM156 326h1v1h-1zM157 327h1v1h-1zM158 327h1v1h-1zM159 328h1v2h-1zM160 330h1v1h-1zM161 330h1v1h-1zM162 330h1v1h-1zM163 328h1v2h-1zM164 329h1v1h-1zM165 330h1v1h-1zM166 329h1v1h-1zM167 328h1v1h-1zM168 329h1v2h-1zM169 331h1v2h-1zM170 332h1v1h-1zM171 333h1v2h-1zM172 330h1v3h-1zM173 329h1v1h-1zM174 328h1v1h-1zM175 329h1v1h-1zM176 329h1v1h-1zM177 329h1v1h-1zM178 328h1v1h-1zM179 328h1v1h-1zM180 329h1v1h-1zM181 330h1v2h-1zM182 332h1v1h-1zM183 332h1v1h-1zM184 331h1v1h-1zM185 329h1v2h-1zM186 327h1v2h-1zM187 328h1v1h-1zM188 328h1v1h-1zM189 329h1v1h-1zM190 330h1v1h-1zM191 329h1v1h-1zM192 329h1v1h-1zM193 329h1v1h-1zM194 327h1v2h-1zM195 329h1v2h-1zM196 330h1v1h-1zM197 330h1v1h-1zM198 331h1v1h-1zM199 330h1v1h-1zM200 330h1v1h-1zM201 330h1v2h-1zM202 328h1v2h-1zM203 329h1v1h-1zM204 330h1v2h-1zM205 329h1v2h-1zM206 329h1v1h-1zM207 329h1v1h-1zM208 330h1v1h-1zM209 330h1v1h-1zM210 330h1v2h-1zM211 332h1v2h-1zM212 332h1v1h-1zM213 332h1v1h-1zM214 330h1v2h-1zM215 332h1v2h-1zM216 332h1v1h-1zM217 330h1v2h-1zM218 331h1v1h-1zM219 330h1v1h-1zM220 330h1v1h-1zM221 330h1v1h-1zM222 331h1v1h-1zM223 331h1v1h-1zM224 331h1v1h-1zM225 331h1v1h-1zM226 332h1v1h-1zM227 331h1v1h-1zM228 331h1v2h-1zM229 329h1v2h-1zM230 329h1v1h-1zM231 329h1v1h-1zM232 330h1v1h-1zM233 331h1v2h-1zM234 333h1v2h-1zM235 334h1v1h-1zM236 332h1v2h-1zM237 332h1v1h-1zM238 332h1v1h-1zM239 332h1v1h-1zM240 332h1v1h-1zM241 333h1v1h-1zM242 333h1v1h-1zM243 333h1v1h-1zM244 332h1v1h-1zM245 331h1v1h-1zM246 330h1v1h-1zM247 329h1v1h-1zM248 329h1v1h-1zM249 329h1v1h-1zM250 330h1v2h-1zM251 332h1v2h-1zM252 332h1v1h-1zM253 330h1v2h-1zM254 330h1v2h-1zM255 328h1v2h-1zM256 326h1v2h-1zM257 327h1v3h-1zM258 330h1v2h-1zM259 332h1v2h-1zM260 333h1v1h-1zM261 333h1v1h-1zM262 333h1v1h-1zM263 334h1v2h-1zM264 336h1v3h-1zM265 339h1v1h-1zM266 340h1v1h-1zM267 341h1v4h-1zM268 339h1v4h-1zM269 336h1v3h-1zM270 334h1v2h-1zM271 333h1v1h-1zM272 331h1v2h-1zM273 330h1v1h-1zM274 330h1v1h-1zM275 330h1v1h-1zM276 331h1v2h-1zM277 330h1v2h-1zM278 329h1v1h-1zM279 328h1v1h-1zM280 329h1v2h-1zM281 331h1v1h-1zM282 331h1v1h-1zM283 330h1v1h-1zM284 330h1v2h-1zM285 332h1v4h-1zM286 336h1v3h-1zM287 339h1v2h-1zM288 336h1v3h-1zM289 332h1v4h-1zM290 330h1v2h-1zM291 330h1v1h-1zM292 330h1v1h-1zM293 331h1v1h-1zM294 330h1v1h-1zM295 329h1v1h-1zM296 330h1v1h-1zM297 331h1v1h-1zM298 330h1v1h-1zM299 331h1v1h-1zM300 331h1v1h-1zM301 332h1v1h-1zM302 331h1v1h-1zM303 330h1v1h-1zM304 329h1v1h-1zM305 329h1v2h-1zM306 324h1v5h-1zM307 319h1v5h-1zM308 316h1v3h-1zM309 314h1v2h-1zM310 315h1v4h-1zM311 319h1v6h-1zM312 325h1v5h-1zM313 330h1v5h-1zM314 334h1v1h-1zM315 334h1v1h-1zM316 332h1v2h-1zM317 331h1v1h-1zM318 332h1v2h-1zM319 334h1v1h-1zM320 332h1v2h-1zM321 331h1v1h-1zM322 331h1v1h-1zM323 331h1v1h-1zM324 332h1v2h-1zM325 334h1v2h-1zM326 336h1v1h-1zM327 337h1v1h-1zM328 336h1v1h-1zM329 336h1v1h-1zM330 334h1v2h-1zM331 333h1v1h-1zM332 332h1v1h-1zM333 332h1v1h-1zM334 331h1v1h-1zM335 331h1v1h-1zM336 330h1v1h-1zM337 331h1v1h-1zM338 330h1v1h-1zM339 330h1v1h-1zM340 328h1v2h-1zM341 329h1v1h-1zM342 330h1v1h-1zM343 329h1v1h-1zM344 327h1v2h-1zM345 325h1v2h-1zM346 324h1v1h-1zM347 323h1v1h-1zM348 324h1v1h-1zM349 325h1v2h-1zM350 327h1v1h-1zM351 328h1v1h-1zM352 329h1v1h-1zM353 328h1v1h-1zM354 328h1v1h-1zM355 329h1v2h-1zM356 331h1v1h-1zM357 332h1v1h-1zM358 333h1v2h-1zM359 335h1v2h-1zM360 333h1v2h-1zM361 332h1v1h-1zM362 332h1v1h-1zM363 333h1v1h-1zM364 333h1v1h-1zM365 333h1v1h-1zM366 334h1v1h-1zM367 333h1v1h-1zM368 332h1v1h-1zM369 331h1v1h-1zM370 331h1v1h-1zM371 332h1v1h-1zM372 332h1v1h-1zM373 331h1v1h-1zM374 330h1v1h-1zM375 329h1v1h-1zM376 329h1v1h-1zM377 328h1v1h-1zM378 327h1v1h-1zM379 327h1v1h-1zM380 328h1v2h-1zM381 330h1v3h-1zM382 333h1v2h-1zM383 334h1v1h-1zM384 334h1v1h-1zM385 334h1v2h-1zM386 331h1v3h-1zM387 331h1v1h-1zM388 331h1v1h-1zM389 332h1v1h-1zM390 331h1v1h-1zM391 332h1v1h-1zM392 330h1v2h-1zM393 329h1v1h-1zM394 329h1v1h-1zM395 330h1v1h-1zM396 331h1v1h-1zM397 330h1v1h-1zM398 330h1v1h-1zM399 330h1v1h-1zM400 330h1v1h-1zM401 330h1v1h-1zM402 328h1v2h-1zM403 327h1v1h-1zM404 328h1v1h-1zM405 329h1v1h-1zM406 328h1v1h-1zM407 328h1v1h-1zM408 329h1v1h-1zM409 330h1v1h-1zM410 330h1v1h-1zM411 331h1v1h-1zM412 332h1v1h-1zM413 333h1v1h-1zM414 334h1v1h-1zM415 334h1v1h-1zM416 334h1v2h-1zM417 332h1v2h-1zM418 331h1v1h-1zM419 330h1v1h-1zM420 331h1v1h-1zM421 330h1v2h-1zM422 332h1v2h-1zM423 332h1v1h-1zM424 331h1v1h-1zM425 331h1v1h-1zM426 332h1v2h-1zM427 332h1v1h-1zM428 332h1v1h-1zM429 332h1v1h-1zM430 333h1v2h-1zM431 332h1v2h-1zM432 331h1v1h-1zM433 329h1v2h-1zM434 328h1v2h-1zM435 330h1v2h-1zM436 328h1v2h-1zM437 329h1v2h-1zM438 331h1v1h-1zM439 330h1v1h-1zM440 330h1v1h-1zM441 330h1v1h-1zM442 330h1v1h-1zM443 330h1v1h-1zM444 331h1v2h-1zM445 331h1v1h-1zM446 332h1v2h-1zM447 331h1v2h-1zM448 331h1v2h-1zM449 329h1v2h-1zM450 328h1v1h-1zM451 327h1v1h-1zM452 328h1v1h-1zM453 327h1v1h-1zM454 327h1v1h-1zM455 327h1v1h-1zM456 327h1v1h-1zM457 326h1v1h-1zM458 325h1v1h-1zM459 326h1v1h-1zM460 326h1v1h-1zM461 327h1v2h-1zM462 328h1v2h-1zM463 326h1v2h-1zM464 327h1v1h-1zM465 327h1v1h-1zM466 326h1v1h-1zM467 326h1v1h-1zM468 327h1v2h-1zM469 327h1v1h-1zM470 328h1v1h-1zM471 327h1v1h-1zM472 326h1v1h-1zM473 327h1v2h-1zM474 326h1v2h-1zM475 325h1v1h-1zM476 325h1v1h-1zM477 326h1v2h-1zM478 328h1v2h-1zM479 327h1v2h-1zM480 326h1v1h-1zM481 326h1v1h-1zM482 326h1v1h-1zM483 326h1v2h-1zM484 328h1v2h-1zM485 330h1v2h-1zM486 328h1v3h-1zM487 326h1v2h-1zM488 324h1v2h-1zM489 325h1v1h-1zM490 326h1v1h-1zM491 327h1v1h-1zM492 328h1v1h-1zM493 328h1v1h-1zM494 328h1v1h-1zM495 327h1v1h-1zM496 327h1v1h-1zM497 326h1v1h-1zM498 326h1v1h-1zM499 326h1v1h-1zM500 327h1v2h-1zM501 329h1v2h-1zM502 327h1v2h-1zM503 325h1v2h-1zM504 324h1v1h-1zM505 323h1v1h-1zM506 323h1v1h-1zM507 323h1v1h-1zM508 324h1v1h-1zM509 325h1v1h-1zM510 326h1v1h-1zM511 327h1v1h-1zM512 328h1v1h-1zM513 328h1v1h-1zM514 329h1v2h-1zM515 330h1v1h-1zM516 329h1v1h-1zM517 328h1v1h-1zM518 329h1v2h-1zM519 328h1v2h-1zM520 326h1v2h-1zM521 325h1v1h-1zM522 323h1v2h-1zM523 324h1v2h-1zM524 326h1v2h-1zM525 328h1v1h-1zM526 329h1v1h-1zM527 327h1v2h-1zM528 328h1v1h-1zM529 326h1v2h-1zM530 326h1v1h-1zM531 326h1v1h-1zM532 325h1v1h-1zM533 326h1v1h-1zM534 326h1v1h-1zM535 326h1v1h-1zM536 326h1v1h-1zM537 325h1v1h-1zM538 324h1v1h-1zM539 324h1v1h-1zM540 324h1v1h-1zM541 324h1v1h-1zM542 325h1v2h-1zM543 324h1v2h-1zM544 323h1v1h-1zM545 324h1v1h-1zM546 324h1v1h-1zM547 325h1v2h-1zM548 325h1v1h-1zM549 325h1v1h-1zM550 324h1v1h-1zM551 325h1v1h-1zM552 326h1v1h-1zM553 325h1v1h-1zM554 324h1v1h-1zM555 324h1v1h-1zM556 324h1v1h-1zM557 324h1v1h-1zM558 324h1v1h-1zM559 323h1v1h-1zM560 324h1v1h-1zM561 324h1v1h-1zM562 325h1v2h-1zM563 323h1v2h-1zM564 324h1v2h-1zM565 326h1v1h-1zM566 326h1v1h-1zM567 325h1v1h-1zM568 324h1v1h-1zM569 322h1v2h-1zM570 323h1v2h-1zM571 324h1v1h-1zM572 323h1v1h-1zM573 324h1v1h-1zM574 324h1v1h-1zM575 322h1v2h-1zM576 323h1v1h-1zM577 324h1v1h-1zM578 324h1v1h-1zM579 324h1v1h-1zM580 323h1v1h-1zM581 324h1v1h-1zM582 324h1v1h-1zM583 323h1v1h-1zM584 322h1v1h-1zM585 322h1v1h-1zM586 322h1v1h-1zM587 322h1v1h-1zM588 320h1v2h-1zM589 319h1v1h-1zM590 319h1v1h-1zM591 318h1v1h-1zM592 318h1v1h-1zM593 319h1v1h-1zM594 319h1v1h-1zM595 320h1v1h-1zM596 321h1v1h-1zM597 321h1v1h-1zM598 321h1v1h-1zM599 321h1v2h-1zM600 323h1v3h-1zM601 322h1v2h-1zM602 323h1v1h-1zM603 323h1v1h-1zM604 324h1v2h-1zM605 322h1v2h-1zM606 320h1v2h-1zM607 318h1v2h-1zM608 320h1v2h-1zM609 322h1v1h-1zM610 322h1v1h-1zM611 323h1v2h-1zM612 325h1v2h-1zM613 327h1v1h-1zM614 326h1v1h-1zM615 324h1v2h-1zM616 323h1v1h-1zM617 322h1v1h-1zM618 322h1v1h-1zM619 321h1v1h-1zM620 321h1v1h-1z"/>
<path shape-rendering="crispEdges" fill="#00c000" d="M49 294h1v1h-1zM50 292h1v2h-1zM51 291h1v1h-1zM52 291h1v1h-1zM53 292h1v1h-1zM54 292h1v1h-1zM55 293h1v1h-1zM56 294h1v2h-1zM57 294h1v1h-1zM58 294h1v1h-1zM59 292h1v2h-1zM60 293h1v1h-1zM61 293h1v1h-1zM62 294h1v1h-1zM63 295h1v1h-1zM64 296h1v1h-1zM65 296h1v1h-1zM66 297h1v1h-1zM67 298h1v1h-1zM68 296h1v2h-1zM69 297h1v2h-1zM70 296h1v2h-1zM71 298h1v3h-1zM72 298h1v2h-1zM73 298h1v1h-1zM74 297h1v1h-1zM75 296h1v1h-1zM76 295h1v1h-1zM77 296h1v1h-1zM78 296h1v1h-1zM79 297h1v1h-1zM80 297h1v2h-1zM81 299h1v2h-1zM82 298h1v2h-1zM83 297h1v1h-1zM84 296h1v1h-1zM85 296h1v1h-1zM86 294h1v2h-1zM87 293h1v1h-1zM88 293h1v1h-1zM89 294h1v1h-1zM90 294h1v1h-1zM91 293h1v1h-1zM92 292h1v1h-1zM93 291h1v1h-1zM94 291h1v1h-1zM95 292h1v1h-1zM96 292h1v1h-1zM97 293h1v1h-1zM98 294h1v1h-1zM99 295h1v1h-1zM100 295h1v2h-1zM101 292h1v3h-1zM102 290h1v2h-1zM103 290h1v1h-1zM104 289h1v1h-1zM105 290h1v1h-1zM106 289h1v1h-1zM107 290h1v1h-1zM108 290h1v1h-1zM109 291h1v1h-1zM110 291h1v1h-1zM111 291h1v1h-1zM112 292h1v1h-1zM113 293h1v1h-1zM114 291h1v2h-1zM115 290h1v1h-1zM116 290h1v1h-1zM117 289h1v1h-1zM118 290h1v1h-1zM119 290h1v1h-1zM120 291h1v1h-1zM121 291h1v1h-1zM122 292h1v1h-1zM123 293h1v1h-1zM124 294h1v1h-1zM125 295h1v1h-1zM126 296h1v1h-1zM127 295h1v1h-1zM128 295h1v1h-1zM129 294h1v1h-1zM130 293h1v1h-1zM131 293h1v1h-1zM132 292h1v1h-1zM133 293h1v1h-1zM134 294h1v1h-1zM135 292h1v2h-1zM136 291h1v1h-1zM137 291h1v1h-1zM138 290h1v1h-1zM139 290h1v1h-1zM140 289h1v1h-1zM141 289h1v1h-1zM142 289h1v1h-1zM143 287h1v2h-1zM144 286h1v2h-1zM145 288h1v2h-1zM146 286h1v2h-1zM147 285h1v1h-1zM148 285h1v1h-1zM149 285h1v1h-1zM150 286h1v1h-1zM151 287h1v1h-1zM152 288h1v1h-1zM153 288h1v1h-1zM154 287h1v1h-1zM155 286h1v1h-1zM156 286h1v1h-1zM157 287h1v1h-1zM158 285h1v2h-1zM159 286h1v1h-1zM160 286h1v1h-1zM161 285h1v1h-1zM162 285h1v1h-1zM163 286h1v1h-1zM164 287h1v1h-1zM165 288h1v1h-1zM166 288h1v2h-1zM167 290h1v2h-1zM168 289h1v2h-1zM169 290h1v1h-1zM170 290h1v1h-1zM171 290h1v1h-1zM172 289h1v1h-1zM173 289h1v1h-1zM174 287h1v2h-1zM175 288h1v2h-1zM176 290h1v3h-1zM177 290h1v2h-1zM178 291h1v1h-1zM179 291h1v1h-1zM180 291h1v1h-1zM181 291h1v1h-1zM182 291h1v2h-1zM183 293h1v2h-1zM184 293h1v1h-1zM185 294h1v1h-1zM186 292h1v2h-1zM187 291h1v1h-1zM188 292h1v1h-1zM189 293h1v4h-1zM190 292h1v3h-1zM191 292h1v1h-1zM192 290h1v2h-1zM193 291h1v1h-1zM194 290h1v1h-1zM195 290h1v1h-1zM196 290h1v1h-1zM197 291h1v1h-1zM198 291h1v1h-1zM199 292h1v2h-1zM200 291h1v2h-1zM201 292h1v2h-1zM202 291h1v2h-1zM203 290h1v1h-1zM204 289h1v1h-1zM205 290h1v1h-1zM206 291h1v1h-1zM207 291h1v1h-1zM208 292h1v2h-1zM209 291h1v2h-1zM210 290h1v1h-1zM211 289h1v1h-1zM212 290h1v1h-1zM213 291h1v1h-1zM214 291h1v1h-1zM215 291h1v1h-1zM216 291h1v1h-1zM217 291h1v1h-1zM218 291h1v1h-1zM219 291h1v1h-1zM220 291h1v1h-1zM221 291h1v1h-1zM222 289h1v2h-1zM223 290h1v1h-1zM224 291h1v2h-1zM225 289h1v2h-1zM226 291h1v2h-1zM227 292h1v1h-1zM228 292h1v1h-1zM229 292h1v1h-1zM230 291h1v1h-1zM231 291h1v1h-1zM232 291h1v1h-1zM233 292h1v2h-1zM234 294h1v2h-1zM235 295h1v1h-1zM236 295h1v1h-1zM237 294h1v1h-1zM238 294h1v2h-1zM239 296h1v2h-1zM240 295h1v2h-1zM241 294h1v1h-1zM242 293h1v1h-1zM243 292h1v1h-1zM244 290h1v2h-1zM245 289h1v1h-1zM246 290h1v1h-1zM247 289h1v1h-1zM248 290h1v1h-1zM249 290h1v1h-1zM250 291h1v1h-1zM251 290h1v1h-1zM252 289h1v1h-1zM253 288h1v2h-1zM254 286h1v2h-1zM255 285h1v1h-1zM256 286h1v1h-1zM257 286h1v2h-1zM258 288h1v2h-1zM259 290h1v1h-1zM260 291h1v1h-1zM261 292h1v1h-1zM262 292h1v1h-1zM263 292h1v1h-1zM264 293h1v2h-1zM265 295h1v2h-1zM266 297h1v2h-1zM267 299h1v2h-1zM268 296h1v3h-1zM269 294h1v2h-1zM270 293h1v2h-1zM271 290h1v3h-1zM272 292h1v3h-1zM273 291h1v2h-1zM274 290h1v1h-1zM275 290h1v1h-1zM276 290h1v1h-1zM277 289h1v1h-1zM278 289h1v1h-1zM279 290h1v1h-1zM280 289h1v2h-1zM281 291h1v2h-1zM282 291h1v1h-1zM283 291h1v1h-1zM284 292h1v1h-1zM285 293h1v3h-1zM286 296h1v3h-1zM287 299h1v2h-1zM288 295h1v4h-1zM289 292h1v3h-1zM290 291h1v1h-1zM291 291h1v1h-1zM292 291h1v1h-1zM293 292h1v1h-1zM294 291h1v1h-1zM295 292h1v1h-1zM296 290h1v2h-1zM297 289h1v1h-1zM298 288h1v1h-1zM299 289h1v1h-1zM300 290h1v1h-1zM301 290h1v1h-1zM302 288h1v2h-1zM303 287h1v1h-1zM304 286h1v1h-1zM305 284h1v6h-1zM306 275h1v9h-1zM307 270h1v5h-1zM308 268h1v2h-1zM309 269h1v3h-1zM310 272h1v7h-1zM311 279h1v7h-1zM312 286h1v3h-1zM313 289h1v1h-1zM314 289h1v1h-1zM315 288h1v1h-1zM316 288h1v1h-1zM317 288h1v1h-1zM318 288h1v1h-1zM319 287h1v1h-1zM320 288h1v1h-1zM321 288h1v1h-1zM322 288h1v1h-1zM323 289h1v2h-1zM324 291h1v3h-1zM325 294h1v2h-1zM326 294h1v1h-1zM327 294h1v1h-1zM328 292h1v2h-1zM329 294h1v2h-1zM330 293h1v2h-1zM331 294h1v1h-1zM332 292h1v2h-1zM333 290h1v2h-1zM334 290h1v1h-1zM335 290h1v1h-1zM336 290h1v1h-1zM337 289h1v1h-1zM338 289h1v1h-1zM339 290h1v1h-1zM340 290h1v1h-1zM341 289h1v1h-1zM342 288h1v1h-1zM343 288h1v1h-1zM344 285h1v3h-1zM345 283h1v2h-1zM346 281h1v2h-1zM347 282h1v1h-1zM348 282h1v1h-1zM349 283h1v2h-1zM350 285h1v2h-1zM351 287h1v2h-1zM352 286h1v2h-1zM353 286h1v1h-1zM354 284h1v2h-1zM355 286h1v2h-1zM356 288h1v2h-1zM357 290h1v1h-1zM358 291h1v2h-1zM359 291h1v1h-1zM360 289h1v2h-1zM361 288h1v1h-1zM362 286h1v2h-1zM363 287h1v1h-1zM364 288h1v1h-1zM365 288h1v2h-1zM366 286h1v2h-1zM367 287h1v2h-1zM368 286h1v2h-1zM369 287h1v1h-1zM370 288h1v2h-1zM371 288h1v1h-1zM372 288h1v1h-1zM373 287h1v1h-1zM374 288h1v1h-1zM375 289h1v2h-1zM376 288h1v2h-1zM377 286h1v2h-1zM378 284h1v2h-1zM379 284h1v1h-1zM380 285h1v3h-1zM381 288h1v2h-1zM382 290h1v2h-1zM383 292h1v2h-1zM384 290h1v2h-1zM385 291h1v1h-1zM386 290h1v1h-1zM387 289h1v1h-1zM388 289h1v1h-1zM389 289h1v1h-1zM390 289h1v1h-1zM391 290h1v1h-1zM392 288h1v2h-1zM393 286h1v4h-1zM394 288h1v2h-1zM395 286h1v2h-1zM396 284h1v2h-1zM397 283h1v1h-1zM398 284h1v2h-1zM399 286h1v2h-1zM400 285h1v2h-1zM401 284h1v1h-1zM402 285h1v2h-1zM403 285h1v1h-1zM404 284h1v1h-1zM405 284h1v1h-1zM406 284h1v1h-1zM407 285h1v2h-1zM408 282h1v3h-1zM409 282h1v1h-1zM410 283h1v2h-1zM411 285h1v1h-1zM412 286h1v1h-1zM413 286h1v1h-1zM414 286h1v1h-1zM415 285h1v1h-1zM416 285h1v1h-1zM417 285h1v1h-1zM418 285h1v1h-1zM419 285h1v1h-1zM420 285h1v1h-1zM421 286h1v1h-1zM422 286h1v1h-1zM423 286h1v1h-1zM424 286h1v1h-1zM425 286h1v1h-1zM426 286h1v1h-1zM427 287h1v1h-1zM428 286h1v1h-1zM429 285h1v1h-1zM430 286h1v1h-1zM431 287h1v1h-1zM432 285h1v2h-1zM433 284h1v1h-1zM434 285h1v1h-1zM435 285h1v1h-1zM436 285h1v1h-1zM437 285h1v1h-1zM438 284h1v1h-1zM439 285h1v1h-1zM440 285h1v1h-1zM441 285h1v1h-1zM442 286h1v1h-1zM443 287h1v1h-1zM444 287h1v1h-1zM445 287h1v1h-1zM446 287h1v1h-1zM447 285h1v2h-1zM448 284h1v1h-1zM449 284h1v1h-1zM450 282h1v2h-1zM451 281h1v2h-1zM452 283h1v2h-1zM453 282h1v2h-1zM454 284h1v2h-1zM455 283h1v2h-1zM456 283h1v1h-1zM457 283h1v2h-1zM458 285h1v2h-1zM459 284h1v2h-1zM460 284h1v2h-1zM461 282h1v2h-1zM462 284h1v2h-1zM463 285h1v1h-1zM464 283h1v2h-1zM465 284h1v2h-1zM466 282h1v2h-1zM467 282h1v1h-1zM468 280h1v2h-1zM469 281h1v1h-1zM470 282h1v1h-1zM471 282h1v1h-1zM472 281h1v2h-1zM473 283h1v2h-1zM474 285h1v1h-1zM475 283h1v2h-1zM476 285h1v2h-1zM477 287h1v1h-1zM478 286h1v1h-1zM479 286h1v1h-1zM480 285h1v1h-1zM481 284h1v1h-1zM482 283h1v1h-1zM483 284h1v1h-1zM484 285h1v1h-1zM485 284h1v1h-1zM486 284h1v1h-1zM487 285h1v1h-1zM488 283h1v2h-1zM489 281h1v2h-1zM490 276h1v5h-1zM491 268h1v8h-1zM492 265h1v36h-1zM493 301h1v37h-1zM494 282h1v29h-1zM495 279h1v3h-1zM496 213h1v66h-1zM497 146h1v98h-1zM498 244h1v99h-1zM499 265h1v39h-1zM500 265h1v5h-1zM501 270h1v8h-1zM502 278h1v5h-1zM503 282h1v1h-1zM504 279h1v3h-1zM505 277h1v2h-1zM506 276h1v1h-1zM507 277h1v1h-1zM508 278h1v1h-1zM509 279h1v2h-1zM510 279h1v1h-1zM511 280h1v1h-1zM512 280h1v1h-1zM513 280h1v1h-1zM514 279h1v1h-1zM515 280h1v1h-1zM516 280h1v1h-1zM517 281h1v1h-1zM518 282h1v1h-1zM519 281h1v1h-1zM520 281h1v3h-1zM521 277h1v4h-1zM522 277h1v1h-1zM523 276h1v2h-1zM524 278h1v2h-1zM525 280h1v1h-1zM526 280h1v1h-1zM527 281h1v1h-1zM528 281h1v1h-1zM529 281h1v1h-1zM530 282h1v1h-1zM531 283h1v1h-1zM532 284h1v2h-1zM533 282h1v2h-1zM534 281h1v1h-1zM535 282h1v1h-1zM536 282h1v1h-1zM537 282h1v1h-1zM538 283h1v2h-1zM539 283h1v1h-1zM540 282h1v1h-1zM541 283h1v1h-1zM542 282h1v1h-1zM543 283h1v1h-1zM544 283h1v2h-1zM545 281h1v2h-1zM546 280h1v1h-1zM547 281h1v1h-1zM548 280h1v1h-1zM549 281h1v2h-1zM550 283h1v1h-1zM551 281h1v2h-1zM552 279h1v2h-1zM553 278h1v2h-1zM554 280h1v3h-1zM555 280h1v2h-1zM556 279h1v1h-1zM557 279h1v1h-1zM558 280h1v1h-1zM559 279h1v1h-1zM560 280h1v1h-1zM561 281h1v1h-1zM562 281h1v1h-1zM563 280h1v1h-1zM564 279h1v1h-1zM565 278h1v1h-1zM566 279h1v1h-1zM567 280h1v2h-1zM568 278h1v2h-1zM569 280h1v2h-1zM570 279h1v2h-1zM571 277h1v2h-1zM572 276h1v1h-1zM573 277h1v2h-1zM574 278h1v1h-1zM575 278h1v1h-1zM576 278h1v1h-1zM577 279h1v1h-1zM578 279h1v1h-1zM579 279h1v1h-1zM580 279h1v1h-1zM581 279h1v3h-1zM582 280h1v1h-1zM583 281h1v1h-1zM584 281h1v1h-1zM585 279h1v2h-1zM586 277h1v2h-1zM587 278h1v1h-1zM588 279h1v1h-1zM589 277h1v2h-1zM590 275h1v2h-1zM591 277h1v2h-1zM592 276h1v2h-1zM593 276h1v1h-1zM594 276h1v1h-1zM595 277h1v1h-1zM596 277h1v1h-1zM597 278h1v1h-1zM598 278h1v1h-1zM599 276h1v2h-1zM600 275h1v1h-1zM601 275h1v1h-1zM602 276h1v2h-1zM603 278h1v2h-1zM604 277h1v2h-1zM605 276h1v1h-1zM606 276h1v1h-1zM607 274h1v2h-1zM608 273h1v1h-1zM609 273h1v1h-1zM610 274h1v3h-1zM611 277h1v1h-1zM612 277h1v1h-1zM613 277h1v1h-1zM614 278h1v1h-1zM615 279h1v2h-1zM616 278h1v2h-1zM617 277h1v3h-1zM618 274h1v3h-1zM619 275h1v1h-1zM620 273h1v2h-1z"/>
<path shape-rendering="crispEdges" fill="#0080ff" d="M49 249h1v1h-1zM50 248h1v3h-1zM51 251h1v4h-1zM52 249h1v3h-1zM53 251h1v2h-1zM54 249h1v2h-1zM55 249h1v1h-1zM56 249h1v1h-1zM57 249h1v1h-1zM58 249h1v1h-1zM59 250h1v1h-1zM60 250h1v1h-1zM61 250h1v1h-1zM62 250h1v1h-1zM63 250h1v3h-1zM64 249h1v2h-1zM65 250h1v1h-1zM66 250h1v1h-1zM67 251h1v1h-1zM68 252h1v2h-1zM69 254h1v1h-1zM70 253h1v1h-1zM71 252h1v1h-1zM72 253h1v2h-1zM73 254h1v1h-1zM74 254h1v1h-1zM75 254h1v1h-1zM76 254h1v1h-1zM77 255h1v1h-1zM78 256h1v2h-1zM79 255h1v2h-1zM80 256h1v1h-1zM81 256h1v1h-1zM82 255h1v1h-1zM83 254h1v1h-1zM84 253h1v1h-1zM85 251h1v2h-1zM86 250h1v1h-1zM87 251h1v1h-1zM88 250h1v1h-1zM89 249h1v1h-1zM90 249h1v1h-1zM91 249h1v1h-1zM92 250h1v1h-1zM93 249h1v1h-1zM94 248h1v1h-1zM95 249h1v1h-1zM96 250h1v2h-1zM97 252h1v1h-1zM98 250h1v2h-1zM99 249h1v1h-1zM100 247h1v2h-1zM101 248h1v1h-1zM102 248h1v1h-1zM103 247h1v1h-1zM104 247h1v1h-1zM105 247h1v1h-1zM106 248h1v2h-1zM107 248h1v1h-1zM108 248h1v1h-1zM109 248h1v1h-1zM110 248h1v1h-1zM111 248h1v1h-1zM112 249h1v1h-1zM113 249h1v1h-1zM114 250h1v2h-1zM115 249h1v2h-1zM116 248h1v1h-1zM117 247h1v1h-1zM118 246h1v1h-1zM119 247h1v1h-1zM120 248h1v1h-1zM121 247h1v1h-1zM122 248h1v2h-1zM123 248h1v1h-1zM124 249h1v1h-1zM125 250h1v1h-1zM126 249h1v1h-1zM127 249h1v1h-1zM128 249h1v2h-1zM129 251h1v2h-1zM130 253h1v2h-1zM131 253h1v1h-1zM132 250h1v3h-1zM133 247h1v3h-1zM134 245h1v2h-1zM135 242h1v3h-1zM136 240h1v3h-1zM137 243h1v12h-1zM138 255h1v9h-1zM139 246h1v9h-1zM140 248h1v5h-1zM141 238h1v10h-1zM142 232h1v6h-1zM143 232h1v1h-1zM144 228h1v5h-1zM145 225h1v4h-1zM146 229h1v8h-1zM147 237h1v4h-1zM148 241h1v4h-1zM149 245h1v4h-1zM150 249h1v3h-1zM151 250h1v2h-1zM152 247h1v4h-1zM153 251h1v6h-1zM154 257h1v7h-1zM155 260h1v11h-1zM156 248h1v12h-1zM157 255h1v9h-1zM158 260h1v8h-1zM159 251h1v9h-1zM160 248h1v3h-1zM161 246h1v2h-1zM162 244h1v4h-1zM163 248h1v4h-1zM164 246h1v3h-1zM165 247h1v1h-1zM166 248h1v1h-1zM167 249h1v2h-1zM168 248h1v2h-1zM169 247h1v1h-1zM170 248h1v1h-1zM171 248h1v1h-1zM172 248h1v1h-1zM173 249h1v1h-1zM174 248h1v1h-1zM175 249h1v2h-1zM176 248h1v2h-1zM177 248h1v1h-1zM178 248h1v1h-1zM179 248h1v1h-1zM180 248h1v1h-1zM181 248h1v1h-1zM182 247h1v1h-1zM183 248h1v2h-1zM184 247h1v2h-1zM185 248h1v1h-1zM186 247h1v1h-1zM187 247h1v2h-1zM188 249h1v2h-1zM189 250h1v1h-1zM190 250h1v1h-1zM191 251h1v1h-1zM192 249h1v2h-1zM193 250h1v2h-1zM194 250h1v1h-1zM195 250h1v1h-1zM196 250h1v1h-1zM197 250h1v1h-1zM198 249h1v1h-1zM199 250h1v1h-1zM200 251h1v1h-1zM201 250h1v1h-1zM202 249h1v1h-1zM203 250h1v1h-1zM204 250h1v1h-1zM205 250h1v1h-1zM206 251h1v1h-1zM207 252h1v1h-1zM208 251h1v1h-1zM209 250h1v1h-1zM210 250h1v1h-1zM211 249h1v1h-1zM212 250h1v1h-1zM213 250h1v1h-1zM214 250h1v1h-1zM215 251h1v1h-1zM216 250h1v1h-1zM217 249h1v1h-1zM218 250h1v1h-1zM219 249h1v1h-1zM220 250h1v1h-1zM221 247h1v3h-1zM222 244h1v3h-1zM223 242h1v2h-1zM224 244h1v3h-1zM225 247h1v3h-1zM226 250h1v4h-1zM227 249h1v3h-1zM228 247h1v2h-1zM229 248h1v1h-1zM230 248h1v1h-1zM231 248h1v1h-1zM232 249h1v2h-1zM233 251h1v2h-1zM234 252h1v1h-1zM235 252h1v1h-1zM236 252h1v1h-1zM237 251h1v1h-1zM238 250h1v1h-1zM239 251h1v1h-1zM240 250h1v1h-1zM241 250h1v1h-1zM242 250h1v1h-1zM243 249h1v1h-1zM244 248h1v1h-1zM245 246h1v2h-1zM246 244h1v2h-1zM247 244h1v1h-1zM248 244h1v1h-1zM249 244h1v1h-1zM250 244h1v1h-1zM251 245h1v2h-1zM252 243h1v2h-1zM253 241h1v2h-1zM254 239h1v2h-1zM255 239h1v1h-1zM256 239h1v2h-1zM257 241h1v2h-1zM258 243h1v1h-1zM259 244h1v1h-1zM260 244h1v1h-1zM261 244h1v1h-1zM262 244h1v1h-1zM263 245h1v2h-1zM264 247h1v2h-1zM265 249h1v3h-1zM266 252h1v2h-1zM267 252h1v1h-1zM268 250h1v2h-1zM269 247h1v3h-1zM270 245h1v2h-1zM271 244h1v1h-1zM272 244h1v1h-1zM273 245h1v2h-1zM274 245h1v1h-1zM275 246h1v1h-1zM276 246h1v1h-1zM277 246h1v2h-1zM278 244h1v2h-1zM279 242h1v2h-1zM280 243h1v2h-1zM281 245h1v2h-1zM282 245h1v1h-1zM283 244h1v1h-1zM284 244h1v2h-1zM285 246h1v4h-1zM286 250h1v4h-1zM287 254h1v3h-1zM288 252h1v3h-1zM289 250h1v2h-1zM290 248h1v2h-1zM291 247h1v1h-1zM292 247h1v1h-1zM293 248h1v1h-1zM294 249h1v1h-1zM295 248h1v1h-1zM296 247h1v1h-1zM297 248h1v1h-1zM298 248h1v1h-1zM299 249h1v1h-1zM300 250h1v1h-1zM301 250h1v1h-1zM302 248h1v2h-1zM303 247h1v1h-1zM304 244h1v3h-1zM305 238h1v6h-1zM306 232h1v6h-1zM307 227h1v5h-1zM308 225h1v2h-1zM309 226h1v2h-1zM310 228h1v6h-1zM311 234h1v6h-1zM312 240h1v3h-1zM313 243h1v2h-1zM314 244h1v1h-1zM315 245h1v2h-1zM316 243h1v2h-1zM317 244h1v1h-1zM318 244h1v1h-1zM319 245h1v1h-1zM320 245h1v1h-1zM321 244h1v1h-1zM322 244h1v1h-1zM323 244h1v2h-1zM324 246h1v2h-1zM325 248h1v3h-1zM326 251h1v2h-1zM327 250h1v2h-1zM328 248h1v2h-1zM329 246h1v2h-1zM330 246h1v1h-1zM331 246h1v1h-1zM332 244h1v2h-1zM333 245h1v2h-1zM334 245h1v1h-1zM335 244h1v1h-1zM336 243h1v1h-1zM337 242h1v1h-1zM338 242h1v1h-1zM339 242h1v2h-1zM340 240h1v2h-1zM341 241h1v1h-1zM342 241h1v2h-1zM343 239h1v2h-1zM344 238h1v1h-1zM345 238h1v1h-1zM346 237h1v2h-1zM347 235h1v2h-1zM348 236h1v2h-1zM349 238h1v1h-1zM350 239h1v2h-1zM351 241h1v2h-1zM352 242h1v1h-1zM353 242h1v1h-1zM354 242h1v1h-1zM355 243h1v1h-1zM356 243h1v2h-1zM357 245h1v2h-1zM358 247h1v4h-1zM359 247h1v3h-1zM360 244h1v3h-1zM361 242h1v2h-1zM362 243h1v2h-1zM363 245h1v1h-1zM364 243h1v2h-1zM365 242h1v1h-1zM366 243h1v2h-1zM367 242h1v2h-1zM368 243h1v1h-1zM369 243h1v1h-1zM370 243h1v1h-1zM371 244h1v1h-1zM372 244h1v1h-1zM373 245h1v2h-1zM374 244h1v3h-1zM375 247h1v4h-1zM376 242h1v5h-1zM377 240h1v2h-1zM378 239h1v2h-1zM379 241h1v2h-1zM380 241h1v1h-1zM381 242h1v1h-1zM382 242h1v2h-1zM383 244h1v3h-1zM384 245h1v2h-1zM385 247h1v3h-1zM386 250h1v2h-1zM387 250h1v1h-1zM388 250h1v1h-1zM389 248h1v2h-1zM390 248h1v1h-1zM391 248h1v1h-1zM392 248h1v1h-1zM393 247h1v1h-1zM394 247h1v1h-1zM395 246h1v1h-1zM396 247h1v2h-1zM397 249h1v2h-1zM398 246h1v3h-1zM399 243h1v3h-1zM400 241h1v2h-1zM401 242h1v2h-1zM402 242h1v1h-1zM403 243h1v2h-1zM404 245h1v1h-1zM405 245h1v2h-1zM406 243h1v2h-1zM407 242h1v1h-1zM408 243h1v2h-1zM409 239h1v4h-1zM410 237h1v3h-1zM411 240h1v4h-1zM412 244h1v3h-1zM413 247h1v2h-1zM414 244h1v4h-1zM415 248h1v5h-1zM416 246h1v5h-1zM417 243h1v3h-1zM418 245h1v2h-1zM419 244h1v2h-1zM420 244h1v1h-1zM421 242h1v2h-1zM422 240h1v2h-1zM423 241h1v1h-1zM424 240h1v2h-1zM425 242h1v3h-1zM426 243h1v1h-1zM427 241h1v2h-1zM428 242h1v2h-1zM429 244h1v3h-1zM430 245h1v1h-1zM431 243h1v2h-1zM432 241h1v2h-1zM433 238h1v3h-1zM434 238h1v2h-1zM435 240h1v2h-1zM436 242h1v2h-1zM437 244h1v1h-1zM438 244h1v1h-1zM439 244h1v1h-1zM440 245h1v3h-1zM441 248h1v3h-1zM442 248h1v2h-1zM443 247h1v1h-1zM444 246h1v1h-1zM445 246h1v1h-1zM446 247h1v1h-1zM447 245h1v2h-1zM448 244h1v1h-1zM449 244h1v3h-1zM450 240h1v4h-1zM451 238h1v2h-1zM452 239h1v3h-1zM453 242h1v2h-1zM454 244h1v1h-1zM455 244h1v1h-1zM456 245h1v3h-1zM457 247h1v3h-1zM458 242h1v5h-1zM459 240h1v2h-1zM460 240h1v1h-1zM461 240h1v1h-1zM462 239h1v1h-1zM463 238h1v3h-1zM464 234h1v4h-1zM465 232h1v3h-1zM466 235h1v3h-1zM467 238h1v1h-1zM468 239h1v3h-1zM469 241h1v4h-1zM470 237h1v4h-1zM471 238h1v3h-1zM472 241h1v2h-1zM473 243h1v1h-1zM474 242h1v1h-1zM475 243h1v2h-1zM476 240h1v3h-1zM477 241h1v2h-1zM478 243h1v2h-1zM479 244h1v1h-1zM480 243h1v4h-1zM481 247h1v2h-1zM482 246h1v2h-1zM483 246h1v1h-1zM484 244h1v2h-1zM485 244h1v2h-1zM486 246h1v3h-1zM487 244h1v3h-1zM488 243h1v1h-1zM489 243h1v1h-1zM490 243h1v1h-1zM491 244h1v1h-1zM492 244h1v1h-1zM493 243h1v1h-1zM494 244h1v1h-1zM495 244h1v1h-1zM496 244h1v1h-1zM497 243h1v1h-1zM498 243h1v1h-1zM499 244h1v1h-1zM500 245h1v1h-1zM501 246h1v1h-1zM502 246h1v1h-1zM503 246h1v2h-1zM504 244h1v2h-1zM505 242h1v2h-1zM506 240h1v2h-1zM507 241h1v1h-1zM508 242h1v1h-1zM509 243h1v1h-1zM510 244h1v1h-1zM511 244h1v1h-1zM512 244h1v1h-1zM513 244h1v1h-1zM514 244h1v1h-1zM515 244h1v1h-1zM516 245h1v1h-1zM517 245h1v1h-1zM518 246h1v1h-1zM519 245h1v1h-1zM520 244h1v1h-1zM521 244h1v1h-1zM522 242h1v2h-1zM523 240h1v2h-1zM524 241h1v1h-1zM525 241h1v1h-1zM526 242h1v1h-1zM527 243h1v1h-1zM528 244h1v1h-1zM529 242h1v2h-1zM530 243h1v2h-1zM531 244h1v1h-1zM532 244h1v1h-1zM533 244h1v1h-1zM534 242h1v2h-1zM535 241h1v1h-1zM536 240h1v1h-1zM537 240h1v1h-1zM538 241h1v2h-1zM539 242h1v1h-1zM540 242h1v1h-1zM541 242h1v1h-1zM542 242h1v1h-1zM543 243h1v1h-1zM544 242h1v1h-1zM545 241h1v1h-1zM546 240h1v1h-1zM547 240h1v1h-1zM548 241h1v2h-1zM549 241h1v1h-1zM550 240h1v1h-1zM551 241h1v1h-1zM552 241h1v1h-1zM553 241h1v1h-1zM554 241h1v1h-1zM555 241h1v1h-1zM556 242h1v1h-1zM557 242h1v1h-1zM558 243h1v1h-1zM559 241h1v2h-1zM560 241h1v1h-1zM561 241h1v1h-1zM562 242h1v2h-1zM563 241h1v2h-1zM564 240h1v1h-1zM565 239h1v1h-1zM566 240h1v1h-1zM567 240h1v1h-1zM568 240h1v1h-1zM569 238h1v2h-1zM570 238h1v1h-1zM571 238h1v1h-1zM572 237h1v1h-1zM573 238h1v1h-1zM574 238h1v1h-1zM575 237h1v2h-1zM576 237h1v1h-1zM577 238h1v1h-1zM578 238h1v1h-1zM579 238h1v1h-1zM580 239h1v1h-1zM581 240h1v1h-1zM582 240h1v1h-1zM583 241h1v1h-1zM584 242h1v1h-1zM585 240h1v2h-1zM586 241h1v1h-1zM587 241h1v1h-1zM588 240h1v1h-1zM589 241h1v2h-1zM590 240h1v2h-1zM591 239h1v1h-1zM592 240h1v1h-1zM593 241h1v1h-1zM594 241h1v1h-1zM595 241h1v1h-1zM596 241h1v1h-1zM597 242h1v1h-1zM598 242h1v1h-1zM599 241h1v1h-1zM600 240h1v1h-1zM601 241h1v1h-1zM602 242h1v1h-1zM603 243h1v1h-1zM604 243h1v1h-1zM605 242h1v1h-1zM606 243h1v2h-1zM607 243h1v1h-1zM608 241h1v2h-1zM609 240h1v1h-1zM610 241h1v1h-1zM611 242h1v3h-1zM612 243h1v1h-1zM613 243h1v1h-1zM614 244h1v3h-1zM615 247h1v2h-1zM616 243h1v4h-1zM617 241h1v2h-1zM618 240h1v1h-1zM619 240h1v1h-1zM620 238h1v2h-1z"/>
<path fill="#000" shape-rendering="crispEdges" d="M48 38h574v1h-574zM48 453h574v1h-574zM48 38h1v416h-1zM621 38h1v416h-1z"/>
<path shape-rendering="crispEdges" fill="#ff0000" d="M581 48h29v1h-29z"/>
<path shape-rendering="crispEdges" fill="#00c000" d="M581 61h29v1h-29z"/>
<path shape-rendering="crispEdges" fill="#0080ff" d="M581 74h29v1h-29z"/>
</svg>
</body></html>
